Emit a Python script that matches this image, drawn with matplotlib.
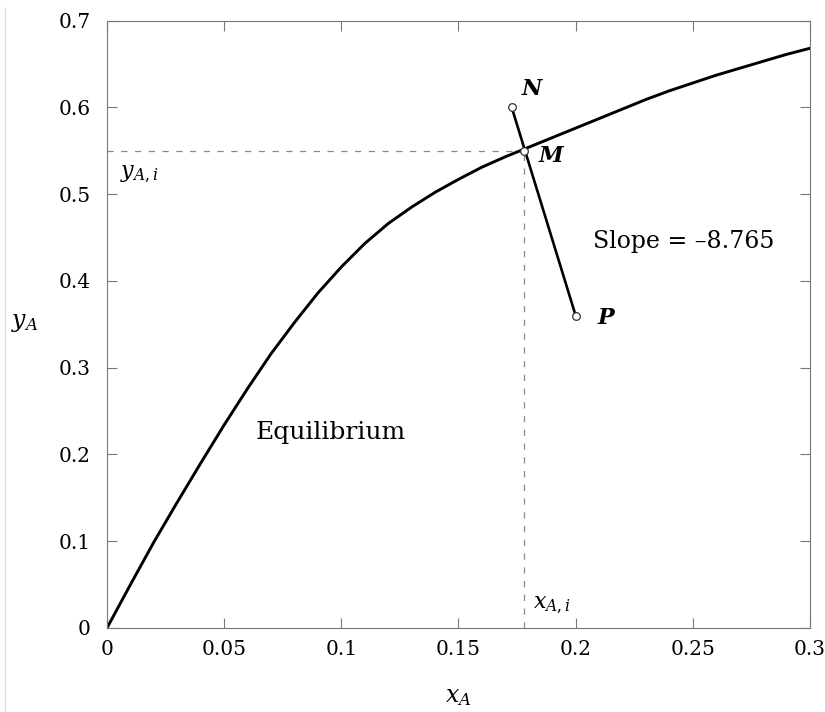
import matplotlib
matplotlib.use("Agg")
import matplotlib.pyplot as plt
from matplotlib.lines import Line2D

# equilibrium curve
x_eq = [0, 0.01, 0.02, 0.03, 0.04, 0.05, 0.06, 0.07, 0.08, 0.09, 0.10,
        0.11, 0.12, 0.13, 0.14, 0.15, 0.16, 0.17, 0.18, 0.19, 0.20,
        0.21, 0.22, 0.23, 0.24, 0.25, 0.26, 0.27, 0.28, 0.29, 0.30]
y_eq = [0, 0.050, 0.099, 0.145, 0.190, 0.234, 0.276, 0.316, 0.352, 0.386, 0.416,
        0.443, 0.466, 0.485, 0.502, 0.517, 0.531, 0.543, 0.554, 0.565, 0.576,
        0.587, 0.598, 0.609, 0.619, 0.628, 0.637, 0.645, 0.653, 0.661, 0.668]

# points N, M, P
pt_names = ["N", "M", "P"]
pt_x = [0.1727, 0.1778, 0.200]
pt_y = [0.600, 0.550, 0.360]
slope = -8.765

plt.rcParams['font.family'] = ['DejaVu Serif']
plt.rcParams['mathtext.fontset'] = 'dejavuserif'

fig = plt.figure(figsize=(8.25, 7.12), dpi=100)
ax = fig.add_axes([0.1297, 0.1180, 0.8521, 0.8532])

frame_col = '#777777'
dash_col = '#8a8a8a'

# dashed guides to the interface point M
xi, yi = pt_x[1], pt_y[1]
ax.plot([0, xi], [yi, yi], color=dash_col, lw=0.9, dashes=(5, 6), zorder=1)
ax.plot([xi, xi], [0, yi], color=dash_col, lw=0.9, dashes=(5, 6), zorder=1)

ax.plot(x_eq, y_eq, color='black', lw=2.1, zorder=2, solid_joinstyle='round')
ax.plot([pt_x[0], pt_x[2]], [pt_y[0], pt_y[2]], color='black', lw=1.9, zorder=3)
ax.plot(pt_x, pt_y, 'o', ms=5.5, mfc='white', mec='#333333', mew=0.9, zorder=4)

ax.set_xlim(0, 0.3)
ax.set_ylim(0, 0.7)
ax.set_xticks([0, 0.05, 0.1, 0.15, 0.2, 0.25, 0.3])
ax.set_xticklabels(['0', '0.05', '0.1', '0.15', '0.2', '0.25', '0.3'])
ax.set_yticks([0, 0.1, 0.2, 0.3, 0.4, 0.5, 0.6, 0.7])
ax.set_yticklabels(['0', '0.1', '0.2', '0.3', '0.4', '0.5', '0.6', '0.7'])
ax.tick_params(direction='in', length=7, width=0.8, color=frame_col,
               labelsize=14.5, top=True, right=True)
ax.tick_params(axis='y', pad=12)
ax.tick_params(axis='x', pad=9)
for sp in ax.spines.values():
    sp.set_color(frame_col)
    sp.set_linewidth(0.8)

# labels
ax.text(0.5, -0.112, '$x_A$', transform=ax.transAxes, ha='center', va='center', fontsize=17)
ax.text(-0.117, 0.503, '$y_A$', transform=ax.transAxes, ha='center', va='center', fontsize=17)

ax.text(0.0055, 0.523, '$y_{A,i}$', ha='left', va='center', fontsize=16)
ax.text(0.1818, 0.026, '$x_{A,i}$', ha='left', va='center', fontsize=16)

ax.text(0.1814, 0.6205, pt_names[0], ha='center', va='center', fontsize=16,
        style='italic', weight='bold')
ax.text(0.1895, 0.5444, pt_names[1], ha='center', va='center', fontsize=16,
        style='italic', weight='bold')
ax.text(0.213, 0.3576, pt_names[2], ha='center', va='center', fontsize=16,
        style='italic', weight='bold')

ax.text(0.2074, 0.445, 'Slope = \u2013' + str(abs(slope)), ha='left', va='center', fontsize=17)
ax.text(0.0956, 0.225, 'Equilibrium', ha='center', va='center', fontsize=18)

# faint border line on the left of the image
fig.add_artist(Line2D([5 / 825, 5 / 825], [0, 1 - 8 / 712], transform=fig.transFigure,
                      color='#dddddd', lw=1))

plt.savefig('out.png', dpi=100)
plt.close()
